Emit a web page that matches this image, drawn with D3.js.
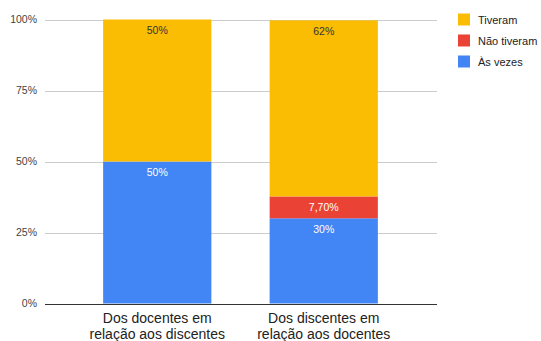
<!DOCTYPE html>
<html>
<head>
<meta charset="utf-8">
<script src="https://cdn.jsdelivr.net/npm/d3@7"></script>
<style>
  html, body { margin: 0; padding: 0; background: #fff; }
  svg { display: block; font-family: "Liberation Sans", Arial, sans-serif; }
</style>
</head>
<body>
<svg id="chart" width="541" height="341"></svg>
<script>
// Categories (two lines each on the x axis)
const categories = [
  ["Dos docentes em", "relação aos discentes"],
  ["Dos discentes em", "relação aos docentes"]
];
// Series values in percent, stacked bottom to top
const seriesNames = ["Às vezes", "Não tiveram", "Tiveram"];
const asVezes    = [50, 30];
const naoTiveram = [0, 7.7];
const tiveram    = [50, 62];
const seriesColors = ["#4285f4", "#ea4335", "#fbbc04"];
const labelColors  = ["#ffffff", "#ffffff", "#333333"];
// Legend order (top to bottom)
const legendOrder = [2, 1, 0];
const yTicks = [0, 25, 50, 75, 100];

const svg = d3.select("#chart");
const margin = { left: 45, right: 104, top: 19.5, bottom: 37.5 };
const W = 541, H = 341;
const gridRight = 437;

const y = d3.scaleLinear().domain([0, 100]).range([H - margin.bottom, margin.top]);
const x = d3.scaleBand()
  .domain(d3.range(categories.length))
  .range([74, 407])
  .paddingInner(0.35)
  .paddingOuter(0.175);

// Grid lines
const grid = svg.append("g");
grid.selectAll("line").data(yTicks.filter(t => t > 0)).join("line")
  .attr("x1", margin.left).attr("x2", gridRight)
  .attr("y1", d => Math.round(y(d)) + 0.5).attr("y2", d => Math.round(y(d)) + 0.5)
  .attr("stroke", "#cccccc").attr("stroke-width", 1);

// Y axis labels
const yAxis = d3.axisLeft(y).tickValues(yTicks).tickFormat(d => d + "%").tickSize(0).tickPadding(8);
const yg = svg.append("g").attr("transform", `translate(${margin.left},0)`).call(yAxis);
yg.select(".domain").remove();
yg.selectAll("text").attr("fill", "#444").style("font-size", "10.5px")
  .style("font-family", "'Liberation Sans', Arial, sans-serif");

// Stacked data
const rows = categories.map((c, i) => ({ i, v: [asVezes[i], naoTiveram[i], tiveram[i]] }));
const fmt = v => (Number.isInteger(v) ? String(v) : v.toFixed(2).replace(".", ",")) + "%";

const bars = svg.append("g");
rows.forEach(r => {
  let base = 0;
  r.v.forEach((v, s) => {
    if (v <= 0) return;
    const y0 = y(base), y1 = y(base + v);
    bars.append("rect")
      .attr("x", x(r.i)).attr("width", x.bandwidth())
      .attr("y", y1).attr("height", y0 - y1)
      .attr("fill", seriesColors[s]);
    bars.append("text")
      .attr("x", x(r.i) + x.bandwidth() / 2)
      .attr("y", y1 + 10.5)
      .attr("text-anchor", "middle").attr("dominant-baseline", "central")
      .attr("fill", labelColors[s]).style("font-size", "10.5px")
      .text(fmt(v));
    base += v;
  });
});

// Baseline
svg.append("line")
  .attr("x1", margin.left).attr("x2", gridRight)
  .attr("y1", Math.round(y(0)) + 0.5).attr("y2", Math.round(y(0)) + 0.5)
  .attr("stroke", "#333").attr("stroke-width", 1);

// X axis labels
const xl = svg.append("g");
categories.forEach((lines, i) => {
  const t = xl.append("text")
    .attr("x", x(i) + x.bandwidth() / 2)
    .attr("text-anchor", "middle").attr("fill", "#222").style("font-size", "14px");
  lines.forEach((ln, k) => {
    t.append("tspan").attr("x", x(i) + x.bandwidth() / 2).attr("y", 323 + k * 15.5).text(ln);
  });
});

// Legend
const lg = svg.append("g").attr("transform", "translate(458,0)");
legendOrder.forEach((s, k) => {
  const cy = 19.5 + k * 21;
  lg.append("rect").attr("x", 0).attr("y", cy - 6).attr("width", 12).attr("height", 12)
    .attr("fill", seriesColors[s]);
  lg.append("text").attr("x", 20).attr("y", cy).attr("dominant-baseline", "central")
    .attr("fill", "#222").style("font-size", "11px").text(seriesNames[s]);
});
</script>
</body>
</html>
